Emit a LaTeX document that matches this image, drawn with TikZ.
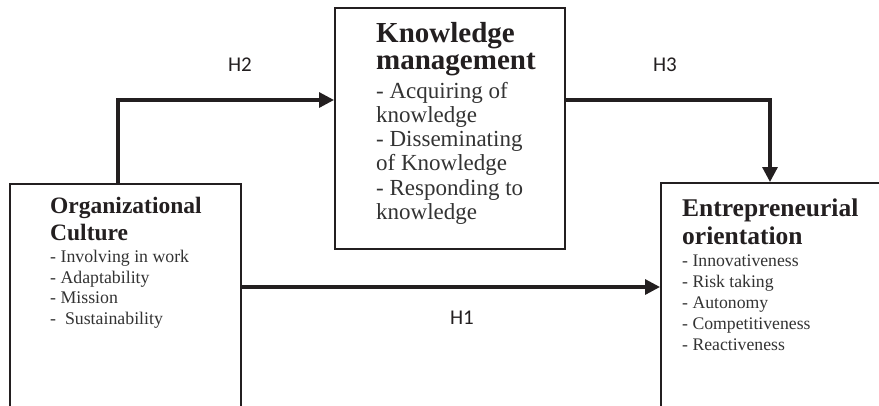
\documentclass[tikz,border=0pt]{standalone}
\usepackage{fontspec}
\setmainfont{Liberation Serif}
\newfontfamily\labelfont{Carlito}
\usetikzlibrary{arrows.meta}
\definecolor{ink}{HTML}{231F20}
\definecolor{listink}{HTML}{333333}
\begin{document}
\begin{tikzpicture}[x=1pt,y=-1pt,
  boxstyle/.style={draw=ink,line width=1.5pt,rectangle,inner sep=0pt,anchor=north west},
  headtext/.style={anchor=north west,inner sep=0pt,align=left,text=ink},
  listtext/.style={anchor=north west,inner sep=0pt,align=left,text=listink},
  hlabel/.style={inner sep=0pt,text=ink,font=\labelfont\fontsize{21}{22}\selectfont},
  arr/.style={draw=ink,line width=3.2pt,-{Triangle[length=15pt,width=15pt]}}]
\useasboundingbox (0,0) rectangle (879,405);
\clip (0,0) rectangle (879,405);
\fill[white] (0,0) rectangle (879,405);
% boxes
\node[boxstyle,minimum width=231pt,minimum height=250pt] (oc) at (9,183) {};
\node[boxstyle,minimum width=230pt,minimum height=241pt] (km) at (334,7) {};
\node[boxstyle,minimum width=260pt,minimum height=250pt] (eo) at (660,182) {};
% texts
\node[headtext,font=\fontsize{23.5}{27}\selectfont\bfseries] (ochead) at (50,197) {Organizational\\Culture};
\node[listtext,font=\fontsize{17.8}{20.7}\selectfont] (oclist) at (50,250) {- Involving in work\\- Adaptability\\- Mission\\-\ \ Sustainability};
\node[headtext,font=\fontsize{29}{27}\selectfont\bfseries] (kmhead) at (376,22.5) {Knowledge\\management};
\node[listtext,font=\fontsize{23}{24.2}\selectfont] (kmlist) at (376,82) {- Acquiring of\\knowledge\\- Disseminating\\of Knowledge\\- Responding to\\knowledge};
\node[headtext,font=\fontsize{25.5}{28}\selectfont\bfseries] (eohead) at (682,199) {Entrepreneurial\\orientation};
\node[listtext,font=\fontsize{17.7}{21}\selectfont] (eolist) at (682,255) {- Innovativeness\\- Risk taking\\- Autonomy\\- Competitiveness\\- Reactiveness};
% connectors
\coordinate (h2) at (118,100);
\coordinate (h3) at (770,100);
\coordinate (h1) at (0,287);
\draw[arr] (oc.north -| h2) -- (h2) -- (km.west |- h2);
\draw[arr] (km.east |- h3) -- (h3) -- (eo.north -| h3);
\draw[arr] (oc.east |- h1) -- (eo.west |- h1);
% labels
\node[hlabel] (lh2) at (240,65) {H2};
\node[hlabel] (lh3) at (665,65) {H3};
\node[hlabel] (lh1) at (462,318) {H1};
\end{tikzpicture}
\end{document}
